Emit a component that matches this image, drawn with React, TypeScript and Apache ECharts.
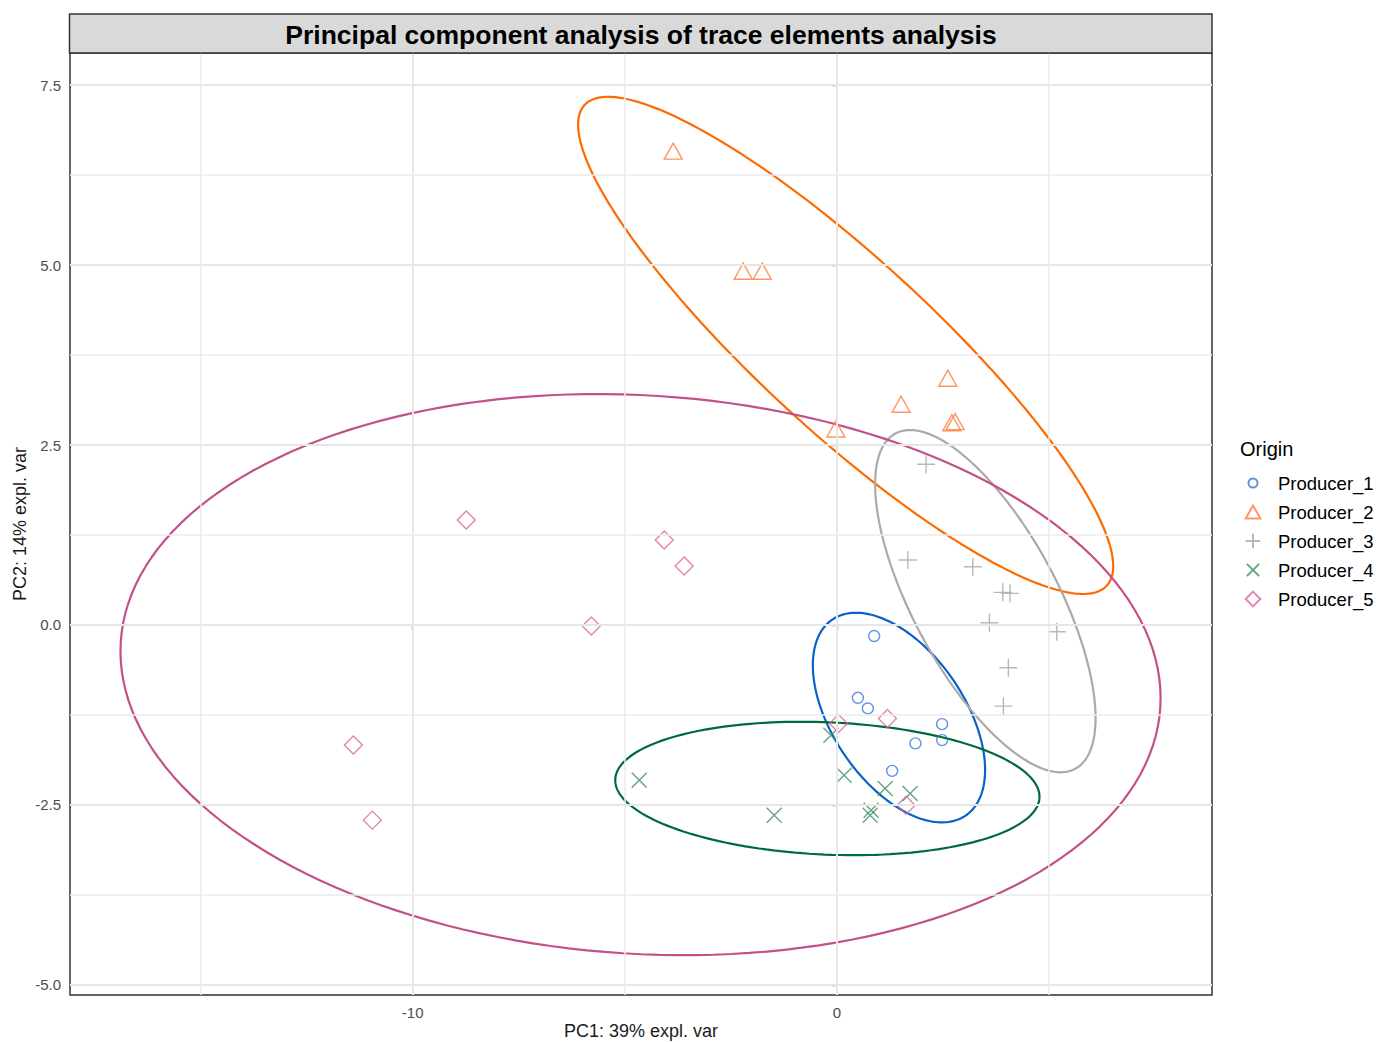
import React, { useEffect, useRef } from "react";
import * as echarts from "echarts";

const FONT = '"Liberation Sans", Arial, sans-serif';

const producerNames = ["Producer_1", "Producer_2", "Producer_3", "Producer_4", "Producer_5"];
const markerColors = ["#3a78d4", "#ff7a3a", "#a6a6a6", "#3f8d60", "#d8689c"];
const ellipseColors = ["#0a62c8", "#ff6a00", "#aaaaaa", "#006b3a", "#c4508a"];

// PCA scores (PC1, PC2) per producer
const producer1X = [0.879, 0.495, 0.73, 2.481, 2.481, 1.852, 1.303];
const producer1Y = [-0.154, -1.012, -1.16, -1.378, -1.6, -1.646, -2.027];
const producer2X = [-3.857, -2.208, -1.76, 2.615, 1.515, 2.71, 2.787, -0.024];
const producer2Y = [6.584, 4.916, 4.916, 3.429, 3.067, 2.811, 2.825, 2.724];
const producer3X = [2.104, 1.673, 3.205, 3.911, 4.083, 3.596, 5.184, 4.043, 3.926];
const producer3Y = [2.233, 0.902, 0.809, 0.453, 0.439, 0.031, -0.095, -0.595, -1.128];
const producer4X = [-4.658, -1.477, -0.141, 0.172, 1.138, 1.727, 0.808, 0.785];
const producer4Y = [-2.157, -2.643, -1.531, -2.087, -2.272, -2.342, -2.574, -2.643];
const producer5X = [-8.735, -4.069, -3.6, -5.789, -11.397, -10.95, 0.038, 1.192, 1.633];
const producer5Y = [1.459, 1.181, 0.819, -0.015, -1.669, -2.712, -1.368, -1.299, -2.504];

// Confidence ellipses: centre and two conjugate semi-diameters (data units)
const ellipseCenterX = [1.464, 0.207, 3.5, -0.224, -4.628];
const ellipseCenterY = [-1.287, 3.885, 0.331, -2.272, -0.69];
const ellipseU = [[1.571, -1.362], [6.155, -3.34], [2.118, -2.33], [5.0, -0.127], [12.252, -0.457]];
const ellipseV = [[-1.286, -0.516], [-1.377, -0.883], [-1.505, -0.476], [-0.067, -0.918], [-0.415, -3.872]];

// Axes
const xMin = -18.077;
const xMax = 8.843;
const yMin = -5.142;
const yMax = 7.948;
const xTickValues = [-10, 0];
const yTickValues = [-5, -2.5, 0, 2.5, 5, 7.5];
const xMinorGrid = [-15, -5, 5];
const yMinorGrid = [-3.75, -1.25, 1.25, 3.75, 6.25];

const titleText = "Principal component analysis of trace elements analysis";
const xAxisTitle = "PC1: 39% expl. var";
const yAxisTitle = "PC2: 14% expl. var";
const legendTitle = "Origin";

// padded symbol paths (22x22 box)
const PAD = "M0,0L0,0M22,22L22,22";
const symbolPaths = [
  "path://" + PAD + "M16.5,11A5.5,5.5,0,1,1,5.5,11A5.5,5.5,0,1,1,16.5,11Z",
  "path://" + PAD + "M11,3L20,19L2,19Z",
  "path://" + PAD + "M11,2L11,20M2,11L20,11",
  "path://" + PAD + "M3.5,3.5L18.5,18.5M18.5,3.5L3.5,18.5",
  "path://" + PAD + "M11,2L20,11L11,20L2,11Z",
];

const xs = [producer1X, producer2X, producer3X, producer4X, producer5X];
const ys = [producer1Y, producer2Y, producer3Y, producer4Y, producer5Y];

function ellipsePoints(i: number): number[][] {
  const pts: number[][] = [];
  const n = 180;
  for (let k = 0; k <= n; k++) {
    const t = (k / n) * Math.PI * 2;
    const c = Math.cos(t);
    const s = Math.sin(t);
    pts.push([
      ellipseCenterX[i] + c * ellipseU[i][0] + s * ellipseV[i][0],
      ellipseCenterY[i] + c * ellipseU[i][1] + s * ellipseV[i][1],
    ]);
  }
  return pts;
}

export default function App() {
  const ref = useRef<HTMLDivElement>(null);
  useEffect(() => {
    if (!ref.current) return;
    const chart = echarts.init(ref.current, null, { renderer: "svg" });

    const gridLines: any[] = [];
    xMinorGrid.forEach((v) => gridLines.push({ xAxis: v, lineStyle: { width: 1.5, color: "#ebebeb", type: "solid" } }));
    xTickValues.forEach((v) => gridLines.push({ xAxis: v, lineStyle: { width: 2, color: "#e6e6e6", type: "solid" } }));
    yMinorGrid.forEach((v) => gridLines.push({ yAxis: v, lineStyle: { width: 1.5, color: "#ebebeb", type: "solid" } }));
    yTickValues.forEach((v) => gridLines.push({ yAxis: v, lineStyle: { width: 2, color: "#e6e6e6", type: "solid" } }));

    const series: any[] = [
      {
        type: "line",
        name: "grid",
        data: [],
        z: 1,
        silent: true,
        markLine: {
          silent: true,
          symbol: ["none", "none"],
          label: { show: false },
          animation: false,
          data: gridLines,
        },
      },
    ];

    producerNames.forEach((name, i) => {
      series.push({
        type: "line",
        name: name + " ellipse",
        data: ellipsePoints(i),
        showSymbol: false,
        symbol: "none",
        smooth: false,
        z: 3,
        silent: true,
        lineStyle: { color: ellipseColors[i], width: 2.2 },
      });
    });

    producerNames.forEach((name, i) => {
      series.push({
        type: "scatter",
        name,
        data: xs[i].map((x, k) => [x, ys[i][k]]),
        symbol: symbolPaths[i],
        symbolSize: 22,
        z: 4,
        itemStyle: { color: "rgba(0,0,0,0)", borderColor: markerColors[i], borderWidth: 1.4 },
      });
    });

    chart.setOption({
      animation: false,
      backgroundColor: "#ffffff",
      grid: {
        left: 70,
        right: 164,
        top: 53,
        bottom: 47,
        show: true,
        borderColor: "#333333",
        borderWidth: 1.5,
        backgroundColor: "rgba(0,0,0,0)",
        containLabel: false,
        outerBoundsMode: "none",
      },
      xAxis: {
        type: "value",
        min: xMin,
        max: xMax,
        splitLine: { show: false },
        axisLine: { show: false },
        axisTick: { show: true, customValues: xTickValues, length: 5, lineStyle: { color: "#333333", width: 1.3 } },
        axisLabel: { customValues: xTickValues, color: "#4d4d4d", fontSize: 15, fontFamily: FONT, margin: 10 },
        name: xAxisTitle,
        nameLocation: "middle",
        nameGap: 27,
        nameMoveOverlap: false,
        nameTextStyle: { color: "#1a1a1a", fontSize: 18, fontFamily: FONT, lineHeight: 18 },
      },
      yAxis: {
        type: "value",
        min: yMin,
        max: yMax,
        splitLine: { show: false },
        axisLine: { show: false },
        axisTick: { show: true, customValues: yTickValues, length: 5, lineStyle: { color: "#333333", width: 1.3 } },
        axisLabel: {
          customValues: yTickValues,
          color: "#4d4d4d",
          fontSize: 15,
          fontFamily: FONT,
          margin: 9,
          formatter: (v: number) => v.toFixed(1),
        },
        name: yAxisTitle,
        nameLocation: "middle",
        nameGap: 41,
        nameMoveOverlap: false,
        nameTextStyle: { color: "#1a1a1a", fontSize: 18, fontFamily: FONT },
      },
      legend: {
        data: producerNames,
        orient: "vertical",
        left: 1243,
        top: 473,
        padding: 0,
        itemWidth: 40,
        itemHeight: 18,
        itemGap: 9,
        symbolKeepAspect: true,
        selectedMode: false,
        textStyle: { color: "#000000", fontSize: 18.5, fontFamily: FONT },
      },
      graphic: [
        {
          type: "rect",
          shape: { x: 69.5, y: 14, width: 1142.5, height: 39 },
          style: { fill: "#d9d9d9", stroke: "#333333", lineWidth: 1.5 },
          z: 10,
        },
        {
          type: "text",
          x: 641,
          y: 35,
          z: 11,
          style: {
            text: titleText,
            fontSize: 26.5,
            fontWeight: "bold",
            fontFamily: FONT,
            fill: "#000000",
            align: "center",
            verticalAlign: "middle",
          },
        },
        {
          type: "text",
          x: 1240,
          y: 449,
          z: 11,
          style: { text: legendTitle, fontSize: 20, fontFamily: FONT, fill: "#000000", align: "left", verticalAlign: "middle" },
        },
      ],
      series,
    });
    return () => chart.dispose();
  }, []);
  return (
    <div ref={ref} style={{ position: "fixed", left: 0, top: 0, width: 1376, height: 1042, background: "#fff" }} />
  );
}
